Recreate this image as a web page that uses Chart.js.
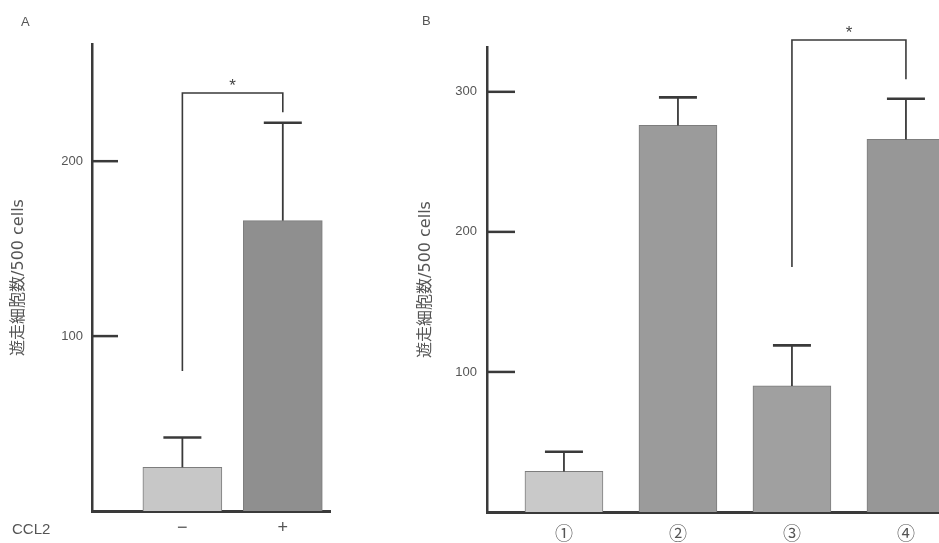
<!DOCTYPE html>
<html><head><meta charset="utf-8">
<script src="https://cdn.jsdelivr.net/npm/chart.js@4.4.1/dist/chart.umd.min.js"></script>
<style>
html,body{margin:0;padding:0;background:#fff;}
#wrap{position:relative;width:939px;height:543px;overflow:hidden;background:#fff;}
canvas{position:absolute;left:0;top:0;}
.lbl{position:absolute;color:#555;font-family:"Liberation Sans",Arial,sans-serif;line-height:1;}
</style></head><body>
<div id="wrap">
<canvas id="cA" width="939" height="543"></canvas>
<canvas id="cB" width="939" height="543"></canvas>
<div class="lbl" style="left:21px;top:15px;font-size:13px;">A</div>
<div class="lbl" style="left:422px;top:14px;font-size:13px;">B</div>
<div class="lbl" style="left:12px;top:521px;font-size:15px;">CCL2</div>
</div>
<script>
const yTitle = '遊走細胞数/500 cells';

// Panel A
const categoriesA = ['−', '+'];
const positionsA = [1, 2];
const valuesA = [25, 166];
const errorsA = [17, 56];
const ticksA = [100, 200];
const colorsA = ['#c7c7c7', '#8f8f8f'];
const pairA = [1, 2];
const bracketA = [80, 239, 228]; // left leg bottom, bracket top, right leg bottom

// Panel B
const categoriesB = ['①', '②', '③', '④'];
const positionsB = [1, 2, 3, 4];
const valuesB = [29, 276, 90, 266];
const errorsB = [14, 20, 29, 29];
const ticksB = [100, 200, 300];
const colorsB = ['#c9c9c9', '#9b9b9b', '#a0a0a0', '#979797'];
const pairB = [3, 4];
const bracketB = [175, 337, 309];

const AX = '#3a3a3a';
const TXT = '#555';

function overlay(tickVals, tickLen, pos, vals, errs, pair, bracket) {
  return {
    id: 'overlay',
    afterDatasetsDraw(chart) {
      const ctx = chart.ctx, xs = chart.scales.x, ys = chart.scales.y, ca = chart.chartArea;
      ctx.save();
      ctx.strokeStyle = AX;
      ctx.lineCap = 'butt';
      ctx.lineWidth = 2.5;
      tickVals.forEach(v => {
        const y = ys.getPixelForValue(v);
        ctx.beginPath(); ctx.moveTo(ca.left, y); ctx.lineTo(ca.left + tickLen, y); ctx.stroke();
      });
      pos.forEach((p, i) => {
        const x = xs.getPixelForValue(p);
        const y0 = ys.getPixelForValue(vals[i]);
        const y1 = ys.getPixelForValue(vals[i] + errs[i]);
        ctx.lineWidth = 1.8;
        ctx.beginPath(); ctx.moveTo(x, y0); ctx.lineTo(x, y1); ctx.stroke();
        ctx.lineWidth = 2.6;
        ctx.beginPath(); ctx.moveTo(x - 19, y1); ctx.lineTo(x + 19, y1); ctx.stroke();
      });
      const xl = xs.getPixelForValue(pair[0]), xr = xs.getPixelForValue(pair[1]);
      const yb = ys.getPixelForValue(bracket[0]), yt = ys.getPixelForValue(bracket[1]), yr = ys.getPixelForValue(bracket[2]);
      ctx.lineWidth = 1.6;
      ctx.beginPath(); ctx.moveTo(xl, yb); ctx.lineTo(xl, yt); ctx.lineTo(xr, yt); ctx.lineTo(xr, yr); ctx.stroke();
      ctx.fillStyle = '#444';
      ctx.font = '17px "Liberation Sans", Arial, sans-serif';
      ctx.textAlign = 'center';
      ctx.textBaseline = 'alphabetic';
      ctx.fillText('*', (xl + xr) / 2, yt - 2);
      ctx.restore();
    }
  };
}

function makeChart(id, p) {
  return new Chart(document.getElementById(id), {
    type: 'bar',
    data: {
      datasets: [{
        data: p.pos.map((x, i) => ({ x: x, y: p.vals[i] })),
        backgroundColor: p.colors,
        borderColor: '#7d7d7d',
        borderWidth: 1,
        barThickness: p.barW
      }]
    },
    options: {
      responsive: false,
      animation: false,
      layout: { padding: { left: p.padL, right: 939 - p.right, top: p.top, bottom: 0 } },
      plugins: { legend: { display: false }, tooltip: { enabled: false } },
      scales: {
        x: {
          type: 'linear',
          offset: false,
          min: p.xMin, max: p.xMax,
          afterFit: s => { s.height = 543 - p.bottom; },
          afterBuildTicks: s => { s.ticks = p.pos.map(v => ({ value: v })); },
          grid: { display: false, drawTicks: false },
          border: { display: true, color: AX, width: 3 },
          ticks: {
            padding: p.xPad, color: TXT, maxRotation: 0, autoSkip: false,
            font: p.xFont,
            callback: (v, i) => p.cats[i]
          }
        },
        y: {
          min: 0, max: p.yMax,
          afterFit: s => { s.width = p.axisX - p.padL; },
          afterBuildTicks: s => { s.ticks = p.ticks.map(v => ({ value: v })); },
          grid: { display: false, drawTicks: false },
          border: { display: true, color: AX, width: 2.5 },
          ticks: { padding: p.yPad, color: TXT, font: { family: '"Liberation Sans", Arial, sans-serif', size: 13 } },
          title: {
            display: true, text: yTitle, color: TXT,
            padding: { top: p.titlePad, bottom: 0 },
            font: { family: '"DejaVu Sans", "Noto Sans CJK JP", sans-serif', size: 16 }
          }
        }
      }
    },
    plugins: [overlay(p.ticks, p.tickLen, p.pos, p.vals, p.errs, p.pair, p.bracket)]
  });
}

makeChart('cA', {
  pos: positionsA, vals: valuesA, errs: errorsA, cats: categoriesA, ticks: ticksA, colors: colorsA,
  pair: pairA, bracket: bracketA,
  padL: 0, axisX: 92, right: 330, top: 44, bottom: 511,
  xMin: 0.1, xMax: 2.47, yMax: 267, barW: 79, tickLen: 26,
  xPad: 6, yPad: 9, titlePad: 9,
  xFont: { family: '"Liberation Sans", Arial, sans-serif', size: 18 }
});

makeChart('cB', {
  pos: positionsB, vals: valuesB, errs: errorsB, cats: categoriesB, ticks: ticksB, colors: colorsB,
  pair: pairB, bracket: bracketB,
  padL: 400, axisX: 487, right: 939, top: 47, bottom: 512,
  xMin: 0.325, xMax: 4.29, yMax: 332, barW: 78, tickLen: 28,
  xPad: 10, yPad: 10, titlePad: 16,
  xFont: { family: '"Noto Sans CJK JP", sans-serif', size: 18 }
});
</script>
</body></html>
